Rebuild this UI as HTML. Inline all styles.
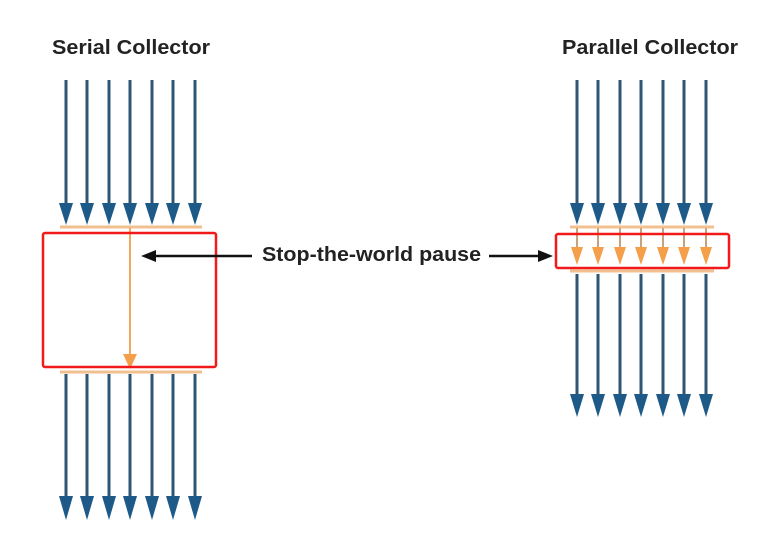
<!DOCTYPE html>
<html><head><meta charset="utf-8"><style>
html,body{margin:0;padding:0;background:#fff;width:778px;height:547px;overflow:hidden}
</style></head><body>
<svg width="778" height="547" viewBox="0 0 778 547" xmlns="http://www.w3.org/2000/svg">
<defs>
<g id="topA"><line x1="0" y1="80" x2="0" y2="208" stroke="#2e5673" stroke-width="3"/><polygon points="-7,203 7,203 0,225" fill="#1e5a88"/></g>
<g id="botL"><line x1="0" y1="374" x2="0" y2="500" stroke="#2e5673" stroke-width="3"/><polygon points="-7,496 7,496 0,520" fill="#1e5a88"/></g>
<g id="botR"><line x1="0" y1="274" x2="0" y2="398" stroke="#2e5673" stroke-width="3"/><polygon points="-7,394 7,394 0,417" fill="#1e5a88"/></g>
<g id="orA"><line x1="0" y1="228" x2="0" y2="250" stroke="#c9a27a" stroke-width="2"/><polygon points="-6,247 6,247 0,265" fill="#f4a04a"/></g>
</defs>
<g font-family="Liberation Sans, sans-serif" font-weight="bold" fill="#222">
<text x="52" y="54" font-size="20" textLength="158" lengthAdjust="spacingAndGlyphs">Serial Collector</text>
<text x="562" y="54" font-size="20" textLength="176" lengthAdjust="spacingAndGlyphs">Parallel Collector</text>
<text x="262" y="261" font-size="20" textLength="219" lengthAdjust="spacingAndGlyphs">Stop-the-world pause</text>
</g>
<!-- left -->
<use href="#topA" x="66"/><use href="#topA" x="87"/><use href="#topA" x="109"/><use href="#topA" x="130"/><use href="#topA" x="152"/><use href="#topA" x="173"/><use href="#topA" x="195"/>
<line x1="60" y1="227" x2="202" y2="227" stroke="#f2c08e" stroke-width="3"/>
<line x1="130" y1="228" x2="130" y2="358" stroke="#f2a95f" stroke-width="2"/>
<polygon points="123,354 137,354 130,369" fill="#f4a04a"/>
<line x1="60" y1="372" x2="202" y2="372" stroke="#f2c08e" stroke-width="3"/>
<use href="#botL" x="66"/><use href="#botL" x="87"/><use href="#botL" x="109"/><use href="#botL" x="130"/><use href="#botL" x="152"/><use href="#botL" x="173"/><use href="#botL" x="195"/>
<rect x="43" y="233" width="173" height="134" rx="2" fill="none" stroke="#f2191b" stroke-width="2.5"/>
<!-- right -->
<use href="#topA" x="577"/><use href="#topA" x="598"/><use href="#topA" x="620"/><use href="#topA" x="641"/><use href="#topA" x="663"/><use href="#topA" x="684"/><use href="#topA" x="706"/>
<line x1="570" y1="227" x2="714" y2="227" stroke="#f2c08e" stroke-width="3"/>
<use href="#orA" x="577"/><use href="#orA" x="598"/><use href="#orA" x="620"/><use href="#orA" x="641"/><use href="#orA" x="663"/><use href="#orA" x="684"/><use href="#orA" x="706"/>
<line x1="570" y1="271" x2="714" y2="271" stroke="#f2c08e" stroke-width="3"/>
<use href="#botR" x="577"/><use href="#botR" x="598"/><use href="#botR" x="620"/><use href="#botR" x="641"/><use href="#botR" x="663"/><use href="#botR" x="684"/><use href="#botR" x="706"/>
<rect x="556" y="234" width="173" height="34" rx="2" fill="none" stroke="#f2191b" stroke-width="2.5"/>
<!-- black arrows -->
<line x1="252" y1="256" x2="152" y2="256" stroke="#111" stroke-width="2.5"/>
<polygon points="141,256 156,250 156,262" fill="#111"/>
<line x1="489" y1="256" x2="542" y2="256" stroke="#111" stroke-width="2.5"/>
<polygon points="553,256 538,250 538,262" fill="#111"/>
</svg>
</body></html>
